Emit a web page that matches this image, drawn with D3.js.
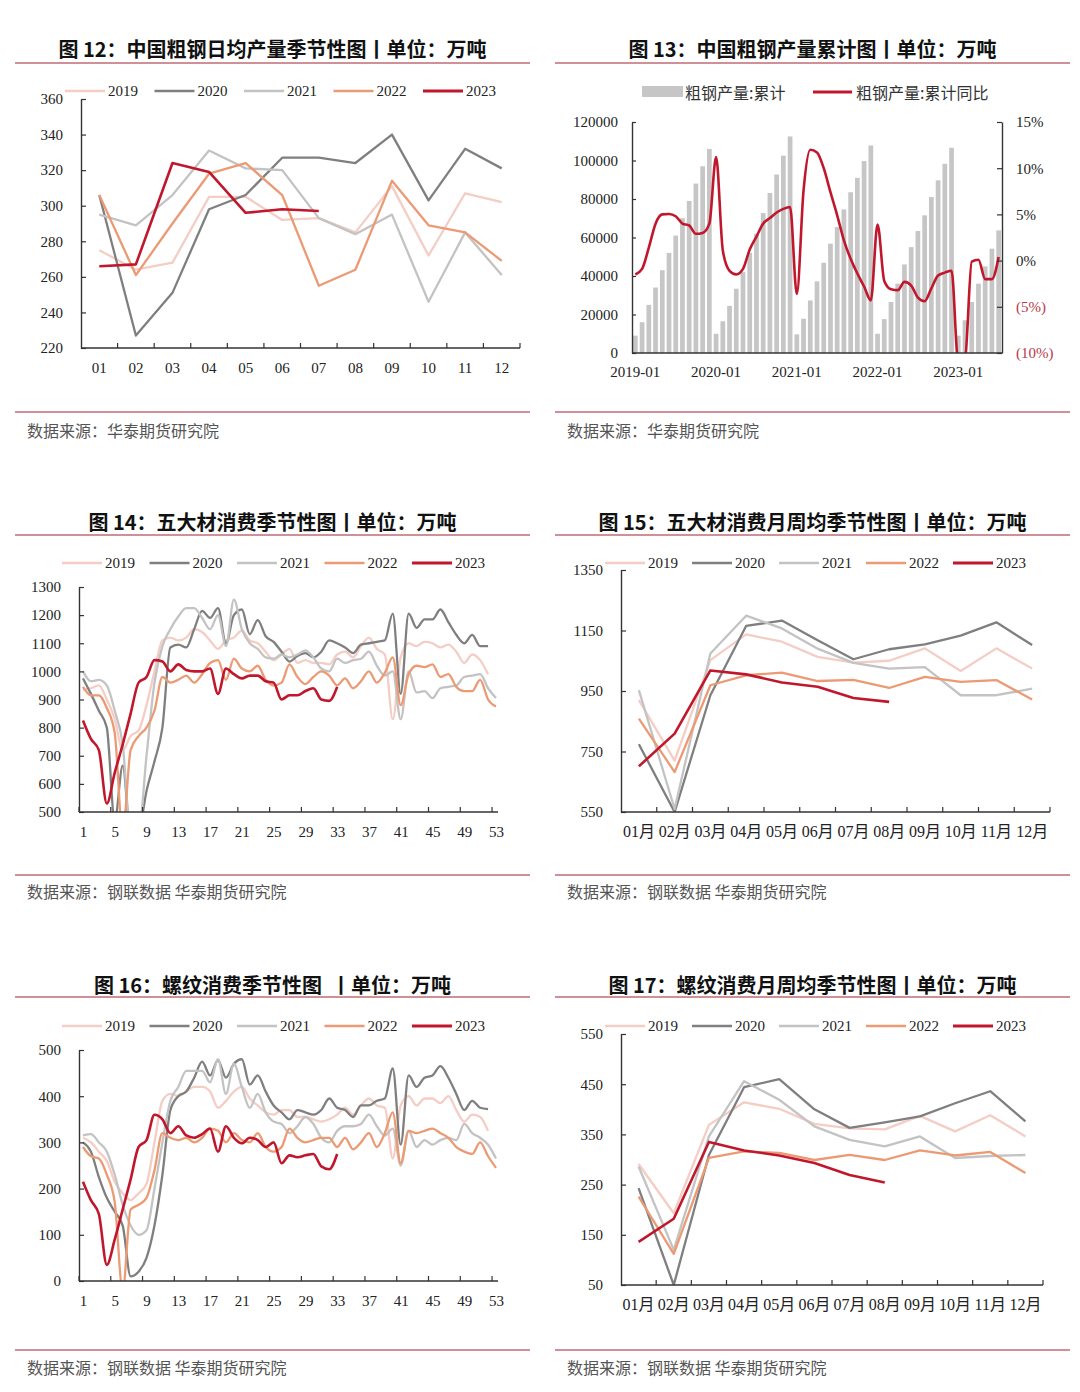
<!DOCTYPE html>
<html>
<head>
<meta charset="utf-8">
<script src="https://cdn.jsdelivr.net/npm/d3@7/dist/d3.min.js"></script>
<style>
body{margin:0;background:#fff;}
svg{display:block;}
</style>
</head>
<body>
<svg id="chart"></svg>
<script>
/* seasonal steel charts - 6 panels */

var years  = ['2019','2020','2021','2022','2023'];
var months = ['01','02','03','04','05','06','07','08','09','10','11','12'];
var monthsCN = ['01月','02月','03月','04月','05月','06月','07月','08月','09月','10月','11月','12月'];
var weekTicks = [1,5,9,13,17,21,25,29,33,37,41,45,49,53];

// fig 12 - daily crude steel output
var dailyOut2019 = [275,264,268,305,305,292,293,285,311,272,307,302];
var dailyOut2020 = [306,227,251,298,306,327,327,324,340,303,332,321];
var dailyOut2021 = [295,289,306,331,321,320,293,284,295,246,285,261];
var dailyOut2022 = [306,261,290,318,324,306,255,264,314,289,285,269];
var dailyOut2023 = [266,267,324,319,296,298,297];

// fig 13 - cumulative crude steel output and yoy (2019-01 .. 2023-07)
var cumOutput = [9000,16000,25000,34000,43000,52000,61000,70000,79000,88000,97000,106000,
                 10000,16500,24500,33400,42000,52000,62000,72700,83100,92700,102500,112500,
                 9700,17800,27300,37200,46900,56800,65400,74600,83500,91000,99700,107800,
                 10000,17600,26500,36000,46000,55000,63400,71500,81000,89700,98300,106600,
                 9000,17000,26500,36000,45000,54200,63700];
var cumYoY = [-1.5,-0.9,1.4,4.0,5.0,5.05,4.8,4.0,3.8,2.9,3.0,4.0,
              11.2,1.1,-1.1,-1.5,-0.9,1.2,2.6,4.0,4.6,5.2,5.6,5.8,
              -3.6,7.6,12.0,11.7,10.0,7.4,4.9,2.2,0.2,-1.4,-2.8,-4.3,
              3.9,-2.2,-3.1,-3.2,-2.3,-2.7,-4.0,-4.4,-3.0,-1.6,-1.3,-1.1,
              -11.0,-10.6,-0.1,0.1,-2.0,-2.0,0.4];

// fig 14 - five major steel products weekly consumption
var five2019 = [935,940,950,900,830,720,770,790,880,1000,1110,1120,1110,1120,1150,1140,1110,1080,1110,1120,1145,1110,1100,1070,1040,1060,1080,1030,1040,1030,1030,1025,1060,1070,1050,1090,1120,1080,1060,830,1050,1100,1090,1105,1100,1085,1095,1070,1030,1060,1040,990];
var five2020 = [975,920,860,800,470,665,420,430,575,680,800,1085,1095,1085,1150,1215,1190,1225,1100,1200,1220,1132,1182,1125,1105,1070,1035,1055,1065,1050,1070,1110,1100,1085,1065,1095,1100,1105,1110,1205,920,1205,1155,1185,1185,1220,1175,1130,1100,1130,1090,1090];
var five2021 = [1000,965,970,950,860,740,430,430,700,960,1090,1150,1195,1225,1225,1190,1150,1200,1090,1255,1150,1100,1080,1050,1045,1060,1050,1060,1075,1050,1010,1000,1045,1030,1040,1045,1070,1020,985,1000,830,1000,925,930,905,940,945,950,980,985,990,940,905];
var five2022 = [945,915,915,870,780,430,720,770,800,860,980,960,970,985,960,990,1030,1040,970,1045,1010,1000,1020,970,950,960,1025,980,955,980,1000,985,950,975,940,965,1000,960,995,1050,880,990,1020,1015,1025,980,990,945,930,930,970,900,875];
var five2023 = [825,760,720,530,640,740,850,960,980,1040,1035,1000,1025,1005,1000,1000,1010,920,1010,990,975,985,985,965,960,900,915,915,930,940,900,895,945];

// fig 15 - five major products, monthly average of weekly consumption
var fiveAvg2019 = [920,720,1052,1137,1113,1063,1044,1050,1091,1016,1091,1024];
var fiveAvg2020 = [774,550,936,1165,1183,1118,1055,1088,1104,1133,1177,1102];
var fiveAvg2021 = [953,560,1074,1199,1157,1090,1043,1024,1029,936,936,958];
var fiveAvg2022 = [859,682,969,1002,1011,983,987,960,997,980,986,922];
var fiveAvg2023 = [701,809,1018,1005,978,964,927,914];

// fig 16 - rebar weekly consumption
var rebar2019 = [310,300,280,260,215,190,175,190,210,300,390,405,400,410,420,420,410,375,390,410,420,395,380,365,360,370,370,355,355,350,345,350,360,375,360,380,395,380,375,265,380,400,380,395,395,385,400,370,345,360,355,325];
var rebar2020 = [300,280,225,180,150,120,10,20,50,120,230,370,400,410,440,475,445,478,440,470,480,425,445,410,380,365,350,370,365,360,370,395,375,370,355,380,380,390,395,460,295,445,420,440,445,465,440,405,370,390,375,372];
var rebar2021 = [315,318,300,280,230,165,120,100,110,200,300,390,420,455,455,455,430,480,405,470,420,375,405,365,345,340,320,335,355,340,310,300,325,335,335,340,360,335,315,330,250,325,290,305,295,305,310,305,340,320,310,295,265];
var rebar2022 = [290,270,265,230,170,-20,155,165,180,240,320,310,305,310,300,310,330,325,300,320,305,300,320,290,280,290,330,310,300,305,310,310,290,310,285,300,320,290,320,365,255,325,320,325,330,320,310,290,280,275,300,270,245];
var rebar2023 = [215,175,145,35,90,155,220,290,305,360,350,320,335,315,310,318,330,280,335,310,298,310,305,290,300,255,272,268,272,275,248,242,275];

// fig 17 - rebar monthly average of weekly consumption
var rebarAvg2019 = [291,193,369,414,401,371,362,360,387,356,388,346];
var rebarAvg2020 = [243,50,309,444,460,400,363,374,386,412,436,376];
var rebarAvg2021 = [286,120,346,456,419,366,339,326,346,303,307,309];
var rebarAvg2022 = [226,112,303,316,313,299,309,299,318,308,315,273];
var rebarAvg2023 = [136,182,335,318,308,293,269,254];

var yearColors = ['#f4cdc4','#7f7f7f','#c3c3c3','#ec9a74','#c1172c'];
var SERIF = '"Liberation Serif","Times New Roman",serif';
var SANS  = '"Noto Sans CJK SC","Noto Sans",sans-serif';
var RULE  = '#cf9197';

var W = 1080, H = 1392;
var svg = d3.select('#chart').attr('width',W).attr('height',H);
svg.append('rect').attr('width',W).attr('height',H).attr('fill','#fff');
var defs = svg.append('defs');

function frame(x0,x1,ty,ly,by,sy,title,src){
    svg.append('text').attr('x',(x0+x1)/2).attr('y',ty).attr('text-anchor','middle')
        .attr('dominant-baseline','central').attr('font-family',SANS).attr('font-weight','bold')
        .attr('font-size','20px').attr('fill','#111').attr('xml:space','preserve').text(title);
    svg.append('line').attr('x1',x0).attr('x2',x1).attr('y1',ly).attr('y2',ly).attr('stroke',RULE).attr('stroke-width',2);
    svg.append('line').attr('x1',x0).attr('x2',x1).attr('y1',by).attr('y2',by).attr('stroke',RULE).attr('stroke-width',2);
    svg.append('text').attr('x',x0+12).attr('y',sy).attr('dominant-baseline','central')
        .attr('font-family',SANS).attr('font-size','16px').attr('fill','#555').text(src);
}

function styleAxis(a){
    a.select('.domain').attr('stroke','#333').attr('stroke-width',1.4);
    a.selectAll('.tick line').attr('stroke','#333').attr('stroke-width',1.2);
    a.selectAll('.tick text').attr('font-family',SERIF).attr('font-size','15px').attr('fill','#222');
}

function legend(lx,ly,step,colors,names){
    names.forEach(function(n,i){
        var x = lx + i*step;
        svg.append('line').attr('x1',x).attr('x2',x+40).attr('y1',ly).attr('y2',ly)
            .attr('stroke',colors[i]).attr('stroke-width',i===4?3:2.5);
        svg.append('text').attr('x',x+43).attr('y',ly).attr('dominant-baseline','central')
            .attr('font-family',SERIF).attr('font-size','15px').attr('fill','#222').text(n);
    });
}

var clipN = 0;
function clip(l,t,r,b){
    var id = 'clip'+(clipN++);
    defs.append('clipPath').attr('id',id).append('rect').attr('x',l).attr('y',t).attr('width',r-l).attr('height',b-t);
    return 'url(#'+id+')';
}

// generic seasonal chart: o.kind = 'band' (months) | 'week'
function seasonChart(o){
    var l=o.l, r=o.r, t=o.t, b=o.b;
    var y = d3.scaleLinear().domain(o.yDomain).range([b,t]);
    var px, xAxis, tickXs = [];
    if(o.kind==='band'){
        var xb = d3.scaleBand().domain(o.cats).range([l,r]);
        px = function(i){ return xb(o.cats[i]) + xb.bandwidth()/2; };
        xAxis = d3.axisBottom(xb).tickSize(0).tickPadding(14);
        o.cats.forEach(function(c,i){ if(i>0) tickXs.push(xb(c)); });
        tickXs.push(r);
    } else {
        var xl = d3.scaleLinear().domain([0.5,53.25]).range([l,r]);
        px = function(i){ return xl(i+1); };
        xAxis = d3.axisBottom(xl).tickValues(weekTicks).tickFormat(d3.format('d')).tickSize(0).tickPadding(14);
        weekTicks.forEach(function(w){ tickXs.push(xl(w-0.5)); });
    }

    var cp = clip(l,t-2,r,b);
    var line = d3.line().x(function(d,i){ return px(i); }).y(function(d){ return y(d); })
        .curve(o.curve || d3.curveLinear);
    o.series.forEach(function(s,i){
        svg.append('path').datum(s).attr('d',line).attr('fill','none')
            .attr('stroke',yearColors[i]).attr('stroke-width',i===4?2.6:2.3)
            .attr('stroke-linejoin','round').attr('clip-path',cp);
    });

    var ya = svg.append('g').attr('transform','translate('+l+',0)')
        .call(d3.axisLeft(y).tickValues(o.yTicks).tickSizeInner(-5).tickSizeOuter(0).tickPadding(18).tickFormat(d3.format('d')));
    styleAxis(ya);
    var xa = svg.append('g').attr('transform','translate(0,'+b+')').call(xAxis.tickSizeOuter(0));
    styleAxis(xa);
    xa.selectAll('.tick text').attr('font-family',SERIF+',"Noto Sans CJK SC"');
    if(o.labelSize) xa.selectAll('.tick text').attr('font-size',o.labelSize);
    xa.select('.domain').attr('d','M'+l+',0H'+r);
    tickXs.forEach(function(x){
        svg.append('line').attr('x1',x).attr('x2',x).attr('y1',b).attr('y2',b-5).attr('stroke','#333').attr('stroke-width',1.2);
    });

    legend(o.lx,o.ly,o.lstep,yearColors,years);
}

// ---------------- row 1 ----------------
frame(15,530,48,63,412,430,'图 12：中国粗钢日均产量季节性图丨单位：万吨','数据来源：华泰期货研究院');
frame(555,1070,48,63,412,430,'图 13：中国粗钢产量累计图丨单位：万吨','数据来源：华泰期货研究院');

seasonChart({kind:'band',cats:months,l:81,r:520,t:99,b:348,
    yDomain:[220,360],yTicks:d3.range(220,361,20),
    series:[dailyOut2019,dailyOut2020,dailyOut2021,dailyOut2022,dailyOut2023],
    lx:65,ly:91,lstep:89.5});

// fig 13: bars + yoy line
(function(){
    var l=632, r=1002, t=122, b=353;
    var keys = [];
    years.forEach(function(yy){ months.forEach(function(m){ keys.push(yy+'-'+m); }); });
    keys = keys.slice(0,cumOutput.length);
    var x  = d3.scaleBand().domain(keys).range([l,r]).paddingInner(0.3).paddingOuter(0.15);
    var y1 = d3.scaleLinear().domain([0,120000]).range([b,t]);
    var y2 = d3.scaleLinear().domain([-10,15]).range([b,t]);

    svg.append('g').selectAll('rect').data(cumOutput).join('rect')
        .attr('x',function(d,i){ return x(keys[i]); }).attr('width',x.bandwidth())
        .attr('y',function(d){ return y1(d); }).attr('height',function(d){ return b-y1(d); })
        .attr('fill','#c6c6c6');

    var cp = clip(l,t,r,b);
    var line = d3.line().x(function(d,i){ return x(keys[i])+x.bandwidth()/2; }).y(function(d){ return y2(d); })
        .curve(d3.curveMonotoneX);
    svg.append('path').datum(cumYoY).attr('d',line).attr('fill','none')
        .attr('stroke','#c1172c').attr('stroke-width',2.6).attr('clip-path',cp);

    var la = svg.append('g').attr('transform','translate('+l+',0)')
        .call(d3.axisLeft(y1).tickValues(d3.range(0,120001,20000)).tickSizeInner(-4).tickSizeOuter(0).tickPadding(14).tickFormat(d3.format('d')));
    styleAxis(la);
    var ra = svg.append('g').attr('transform','translate('+r+',0)')
        .call(d3.axisRight(y2).tickValues([-10,-5,0,5,10,15]).tickSizeInner(-5).tickSizeOuter(0).tickPadding(14)
            .tickFormat(function(v){ return v<0 ? '('+(-v)+'%)' : v+'%'; }));
    styleAxis(ra);
    ra.selectAll('.tick text').attr('fill',function(v){ return v<0 ? '#b8394a' : '#222'; });
    var xa = svg.append('g').attr('transform','translate(0,'+b+')')
        .call(d3.axisBottom(x).tickValues(keys.filter(function(k){ return k.slice(5)==='01'; })).tickSize(0).tickPadding(13));
    styleAxis(xa);
    xa.select('.domain').attr('d','M'+l+',0H'+r);

    // legend
    svg.append('rect').attr('x',642).attr('y',86).attr('width',41).attr('height',11).attr('fill','#c6c6c6');
    svg.append('text').attr('x',685).attr('y',92).attr('dominant-baseline','central').attr('font-family',SANS)
        .attr('font-size','16px').attr('fill','#333').text('粗钢产量:累计');
    svg.append('line').attr('x1',813).attr('x2',852).attr('y1',92).attr('y2',92).attr('stroke','#c1172c').attr('stroke-width',3);
    svg.append('text').attr('x',856).attr('y',92).attr('dominant-baseline','central').attr('font-family',SANS)
        .attr('font-size','16px').attr('fill','#333').text('粗钢产量:累计同比');
})();

// ---------------- row 2 ----------------
frame(15,530,521,535,875,891,'图 14：五大材消费季节性图丨单位：万吨','数据来源：钢联数据 华泰期货研究院');
frame(555,1070,521,535,875,891,'图 15：五大材消费月周均季节性图丨单位：万吨','数据来源：钢联数据 华泰期货研究院');

seasonChart({kind:'week',l:79,r:498,t:587,b:812,
    yDomain:[500,1300],yTicks:d3.range(500,1301,100),curve:d3.curveMonotoneX,
    series:[five2019,five2020,five2021,five2022,five2023],
    lx:62,ly:563,lstep:87.5});

seasonChart({kind:'band',cats:monthsCN,l:621,r:1050,t:570,b:812,labelSize:'16px',
    yDomain:[550,1350],yTicks:[550,750,950,1150,1350],
    series:[fiveAvg2019,fiveAvg2020,fiveAvg2021,fiveAvg2022,fiveAvg2023],
    lx:605,ly:563,lstep:87});

// ---------------- row 3 ----------------
frame(15,530,984,997,1350,1367,'图 16：螺纹消费季节性图  丨单位：万吨','数据来源：钢联数据 华泰期货研究院');
frame(555,1070,984,997,1350,1367,'图 17：螺纹消费月周均季节性图丨单位：万吨','数据来源：钢联数据 华泰期货研究院');

seasonChart({kind:'week',l:79,r:498,t:1050,b:1281,
    yDomain:[0,500],yTicks:d3.range(0,501,100),curve:d3.curveMonotoneX,
    series:[rebar2019,rebar2020,rebar2021,rebar2022,rebar2023],
    lx:62,ly:1026,lstep:87.5});

seasonChart({kind:'band',cats:monthsCN,l:621,r:1043,t:1034,b:1285,labelSize:'16px',
    yDomain:[50,550],yTicks:d3.range(50,551,100),
    series:[rebarAvg2019,rebarAvg2020,rebarAvg2021,rebarAvg2022,rebarAvg2023],
    lx:605,ly:1026,lstep:87});
</script>
</body>
</html>
